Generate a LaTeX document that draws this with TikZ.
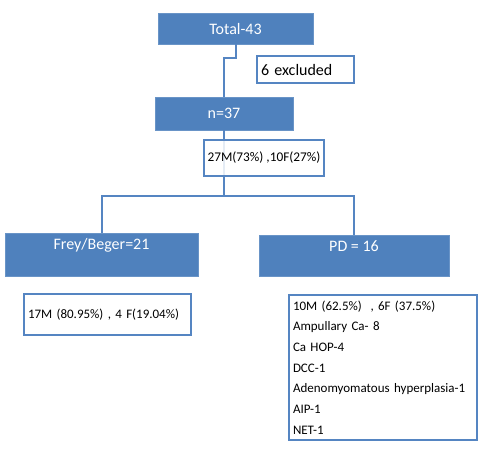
\documentclass[tikz,border=0pt]{standalone}
\usepackage{fontspec}
\setmainfont{Carlito}
\definecolor{offblue}{HTML}{4F81BD}
\definecolor{lineblue}{HTML}{5585C2}
\tikzset{
  bluebox/.style={rectangle, fill=offblue, draw=offblue!85!white, line width=0.6pt, text=white, inner sep=0pt, font=\fontsize{16}{19}\selectfont},
  whitebox/.style={rectangle, fill=white, draw=lineblue, line width=2pt, text=black, inner sep=0pt},
  conn/.style={draw=lineblue, line width=2pt},
}
\begin{document}
\begin{tikzpicture}[x=1pt, y=-1pt]
\useasboundingbox (0,0) rectangle (491,451);
% nodes
\node[bluebox, minimum width=155pt, minimum height=31pt] (total) at (235.5,28.5) {Total-43};
\node[whitebox, minimum height=27pt, text width=89pt, inner xsep=4pt, align=left,
      font=\fontsize{16}{19}\selectfont] (excl) at (305.5,69.5) {6 excluded};
\node[bluebox, minimum width=138pt, minimum height=33pt] (n37) at (224,113.5) {n=37};
\coordinate (split) at (224,196);
\draw[conn] (total.south) -- ++(0,14) -| (n37.north);
\draw[conn] (n37.south) -- (split);
\node[whitebox, fill opacity=0.85, text opacity=1, minimum width=120pt, minimum height=36pt,
      font=\fontsize{13.3}{16}\selectfont] (sex) at (264,158) {27M(73\%) ,10F(27\%)};
\node[bluebox, minimum width=193pt, minimum height=43pt, text height=11pt, text depth=22pt] (frey) at (101.5,254.5) {Frey/Beger=21};
\node[bluebox, minimum width=190pt, minimum height=41pt, text height=11pt, text depth=20pt] (pd) at (354,255.5) {PD = 16};
\draw[conn] (split) -| (frey.north);
\draw[conn] (split) -| (pd.north);
\node[whitebox, minimum height=41pt, text width=159pt, inner xsep=4pt, align=left,
      font=\fontsize{13}{16}\selectfont] (freyd) at (107.5,314.5) {17M (80.95\%) , 4 F(19.04\%)};
\node[whitebox, minimum height=145pt, text width=180pt, inner xsep=4pt, align=left,
      font=\fontsize{13}{20.7}\selectfont] (pdd) at (383,367.5)
  {10M (62.5\%) \ , 6F (37.5\%)\\Ampullary Ca- 8\\Ca HOP-4\\DCC-1\\Adenomyomatous hyperplasia-1\\AIP-1\\NET-1};
\end{tikzpicture}
\end{document}
